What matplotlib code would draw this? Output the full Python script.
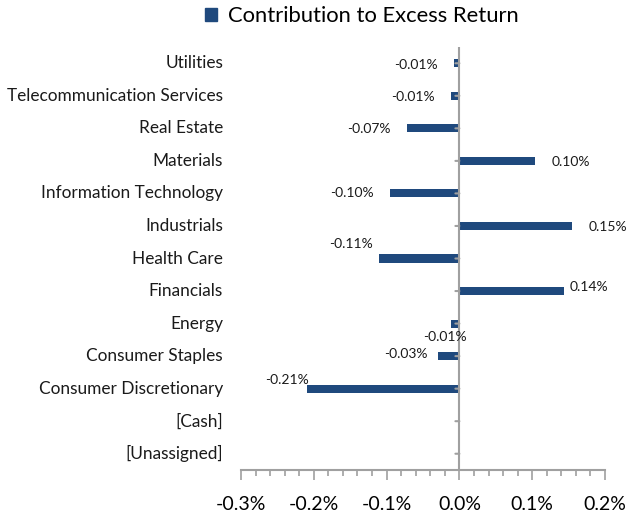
import matplotlib
matplotlib.use("Agg")
import matplotlib.pyplot as plt
from matplotlib.ticker import MultipleLocator, FuncFormatter
from matplotlib.patches import Patch

categories = ["Utilities", "Telecommunication Services", "Real Estate", "Materials",
              "Information Technology", "Industrials", "Health Care", "Financials",
              "Energy", "Consumer Staples", "Consumer Discretionary", "[Cash]", "[Unassigned]"]
values = [-0.008, -0.012, -0.072, 0.104, -0.096, 0.154, -0.111, 0.143,
          -0.012, -0.029, -0.209, 0.0, 0.0]
labels = ["-0.01%", "-0.01%", "-0.07%", "0.10%", "-0.10%", "0.15%", "-0.11%", "0.14%",
          "-0.01%", "-0.03%", "-0.21%", "", ""]
# label offsets in pixels (dx, dy; up positive) from bar end
label_off = [(-38, -2), (-38, -1), (-38, -1), (36, -1), (-38, 0), (36, -1),
             (-28, 15), (25, 4), (-6, -13), (-32, 2), (-20, 9), (0, 0), (0, 0)]

fontname = "Lato"
color = "#1F497D"

fig = plt.figure(figsize=(6.28, 5.12), dpi=100)
ax = fig.add_axes([241/628, 42/512, (605-241)/628, (470-47)/512])

n = len(categories)
ypos = [n - 1 - i for i in range(n)]
ax.barh(ypos, values, height=0.25, color=color, zorder=2)

ax.set_xlim(-0.3, 0.2)
ax.set_ylim(-0.5, n - 0.5)
ax.xaxis.set_major_locator(MultipleLocator(0.1))
ax.xaxis.set_minor_locator(MultipleLocator(0.02))
ax.xaxis.set_major_formatter(FuncFormatter(lambda v, p: f"{v:.1f}%"))
ax.tick_params(axis="x", which="major", length=7, width=1.2, color="#A0A0A0",
               labelsize=14, pad=12)
ax.tick_params(axis="x", which="minor", length=4, width=1.2, color="#A0A0A0")
for t in ax.get_xticklabels():
    t.set_fontname(fontname)

ax.set_yticks(ypos)
ax.set_yticklabels([])
ax.tick_params(axis="y", length=0)

for s in ["top", "right", "left"]:
    ax.spines[s].set_visible(False)
ax.spines["bottom"].set_color("#A0A0A0")
ax.spines["bottom"].set_linewidth(1.5)

# zero axis line with ticks
ax.axvline(0, color="#A0A0A0", lw=1.5, zorder=3)
for y in ypos:
    ax.annotate("", xy=(0, y), xytext=(-4, 0), textcoords="offset pixels",
                xycoords="data",
                arrowprops=dict(arrowstyle="-", color="#A0A0A0", lw=1.5,
                                shrinkA=0, shrinkB=0), zorder=4)

# category labels on left
for y, c in zip(ypos, categories):
    ax.annotate(c, xy=(0, y), xycoords=("axes fraction", "data"),
                xytext=(-18, 0), textcoords="offset pixels",
                ha="right", va="center", fontsize=12.4, fontname=fontname,
                color="#1a1a1a")

# data labels
for y, v, lab, (dx, dy) in zip(ypos, values, labels, label_off):
    if lab:
        ax.annotate(lab, xy=(v, y), xytext=(dx, dy), textcoords="offset pixels",
                    ha="center", va="center", fontsize=10, fontname=fontname,
                    color="#1a1a1a")

fig.legend(handles=[Patch(color=color, label="Contribution to Excess Return")],
           loc="center", bbox_to_anchor=(362/628, 1 - 16/512), frameon=False,
           prop={"family": fontname, "size": 15.8}, handlelength=0.55,
           handleheight=0.55, handletextpad=0.5)

fig.savefig("out.png", dpi=100)
